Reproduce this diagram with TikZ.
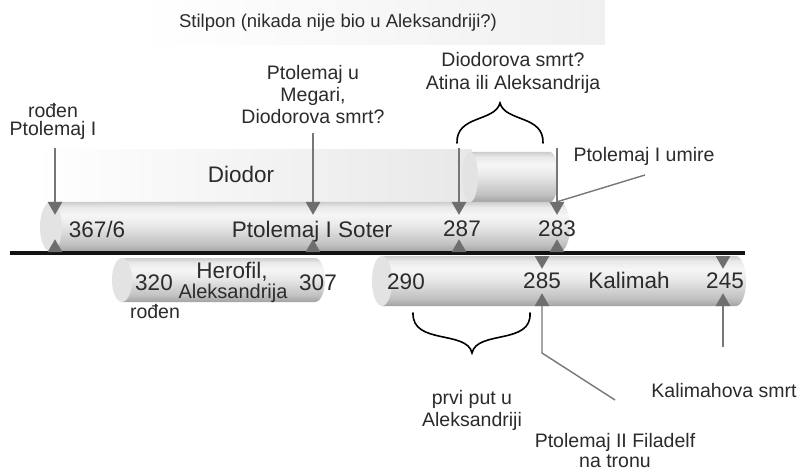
\documentclass[tikz,border=0pt]{standalone}
\usepackage{fontspec}
\setmainfont{Liberation Sans}
\usetikzlibrary{shapes.geometric}

\definecolor{tubeA}{HTML}{A2A2A2}
\definecolor{tubeB}{HTML}{C2C2C2}
\definecolor{tubeC}{HTML}{E9E9E9}
\definecolor{tubeD}{HTML}{F6F6F6}
\definecolor{tubeE}{HTML}{CDCDCD}
\definecolor{tubeface}{HTML}{E3E3E3}
\definecolor{txt}{HTML}{2B2B2B}
\definecolor{pinc}{HTML}{777777}
\definecolor{tric}{HTML}{6E6E6E}

% body of a horizontal tube: darker at the bottom, bright band in the upper half
\pgfdeclareverticalshading{tubeshade}{100bp}{%
  color(0bp)=(tubeA); color(25bp)=(tubeA); color(33bp)=(tubeB);
  color(52bp)=(tubeC); color(62bp)=(tubeD); color(70bp)=(tubeC);
  color(75bp)=(tubeE); color(100bp)=(tubeE)}

% #1 x of the front face, #2 x where the round end starts, #3 y of the axis,
% #4 horizontal radius of the ends, #5 half height
\newcommand\tubebar[5]{%
  \shade[shading=tubeshade] (#1,#3-#5) -- (#2,#3-#5)
    arc[start angle=90,end angle=-90,x radius=#4pt,y radius=#5pt]
    -- (#1,#3+#5) -- cycle;
  \fill[tubeface] (#1,#3) ellipse[x radius=#4pt,y radius=#5pt];}

\tikzset{
  biglbl/.style={font=\fontsize{22.5}{27}\selectfont, text=txt, inner sep=0pt, anchor=base},
  annlbl/.style={font=\fontsize{19.5}{23}\selectfont, text=txt, inner sep=0pt, anchor=base},
  toplbl/.style={font=\fontsize{18.5}{22}\selectfont, text=txt, inner sep=0pt, anchor=base},
  pinline/.style={draw=pinc, line width=1.4pt},
  brc/.style={draw=black, line width=1.6pt, line cap=round},
  trid/.style={regular polygon, regular polygon sides=3, shape border rotate=180,
    fill=tric, minimum size=17pt, inner sep=0pt},
  triu/.style={regular polygon, regular polygon sides=3,
    fill=tric, minimum size=17pt, inner sep=0pt},
}

\begin{document}
\begin{tikzpicture}[x=1pt,y=-1pt]
\useasboundingbox (0,0) rectangle (799,470);
\fill[white] (0,0) rectangle (799,470);

% pale bands
\shade[left color=white, right color=black!6] (137,0) rectangle (605,45);
\shade[left color=white, right color=black!9] (33,150) rectangle (472,202);

% tubes
\tubebar{470}{550}{177}{8}{25}
\tubebar{51}{559}{227}{11}{25}
\tubebar{122}{315}{280}{10}{22}
\tubebar{382}{736}{281}{10}{25}

% time axis
\draw[line width=3.5pt, black!93] (10,253) -- (745,253);

% markers
\node[trid] (t367d) at (55,206.25) {};
\node[triu] (t367u) at (55,247.75) {};
\node[trid] (tMegd) at (313,206.25) {};
\node[triu] (tMegu) at (313,247.75) {};
\node[trid] (t287d) at (459,206.25) {};
\node[triu] (t287u) at (459,247.75) {};
\node[trid] (t283d) at (557,206.25) {};
\node[triu] (t283u) at (557,247.75) {};
\node[trid] (t285d) at (542,260.25) {};
\node[triu] (t285u) at (542,301.75) {};
\node[trid] (t245d) at (723,260.25) {};
\node[triu] (t245u) at (723,301.75) {};

% labels on the tubes
\node[biglbl] (lDiodor) at (241,183) {Diodor};
\node[biglbl] (l367) at (97,237) {367/6};
\node[biglbl] (lSoter) at (312,237) {Ptolemaj I Soter};
\node[biglbl] (l287) at (462,236) {287};
\node[biglbl] (l283) at (557,236) {283};
\node[biglbl] (l320) at (154,290) {320};
\node[biglbl] (lHerofil) at (232,278) {Herofil,};
\node[annlbl, font=\fontsize{20}{24}\selectfont] (lHerAl) at (233,298) {Aleksandrija};
\node[biglbl] (l307) at (318,290) {307};
\node[annlbl] (lHerRod) at (155,318) {rođen};
\node[biglbl] (l290) at (406,289) {290};
\node[biglbl] (l285) at (542,288) {285};
\node[biglbl] (lKalimah) at (629,288) {Kalimah};
\node[biglbl] (l245) at (725,288) {245};

% notes
\node[toplbl] (lStilpon) at (338,28) {Stilpon (nikada nije bio u Aleksandriji?)};
\node[annlbl] (nRod1) at (53,118) {rođen};
\node[annlbl] (nRod2) at (53,136) {Ptolemaj I};
\node[annlbl] (nMeg1) at (313,80) {Ptolemaj u};
\node[annlbl] (nMeg2) at (313,102) {Megari,};
\node[annlbl] (nMeg3) at (313,124) {Diodorova smrt?};
\node[annlbl] (nAt1) at (513,67) {Diodorova smrt?};
\node[annlbl] (nAt2) at (513,90) {Atina ili Aleksandrija};
\node[annlbl] (nUmire) at (644,162) {Ptolemaj I umire};
\node[annlbl] (nPrvi1) at (472,404) {prvi put u};
\node[annlbl] (nPrvi2) at (472,426) {Aleksandriji};
\node[annlbl] (nKsmrt) at (724,397) {Kalimahova smrt};
\node[annlbl] (nFil1) at (615,447) {Ptolemaj II Filadelf};
\node[annlbl] (nFil2) at (615,467) {na tronu};

% connectors
\coordinate (p367) at (55,148);
\coordinate (pMeg) at (313,133);
\coordinate (p287) at (459,148);
\coordinate (p283) at (557,148);
\coordinate (pUmire) at (645,175);
\coordinate (k285) at (542,353);
\coordinate (p285) at (615,400);
\coordinate (p245) at (723,347);
\draw[pinline] (p367) -- (t367d.north);
\draw[pinline] (pMeg) -- (tMegd.north);
\draw[pinline] (p287) -- (t287d.north);
\draw[pinline] (p283) -- (t283d.north);
\draw[pinline] (pUmire) -- (t283d.north);
\draw[pinline] (t285u.south) -- (k285) -- (p285);
\draw[pinline] (p245) -- (t245u.south);

% braces
\draw[brc] (457,143) .. controls (456,115) and (495,122) .. (500,103)
  .. controls (505,122) and (544,115) .. (543,143);
\draw[brc] (413,313) .. controls (412,345) and (467,330) .. (472,353)
  .. controls (477,330) and (532,345) .. (530,313);
\end{tikzpicture}
\end{document}
